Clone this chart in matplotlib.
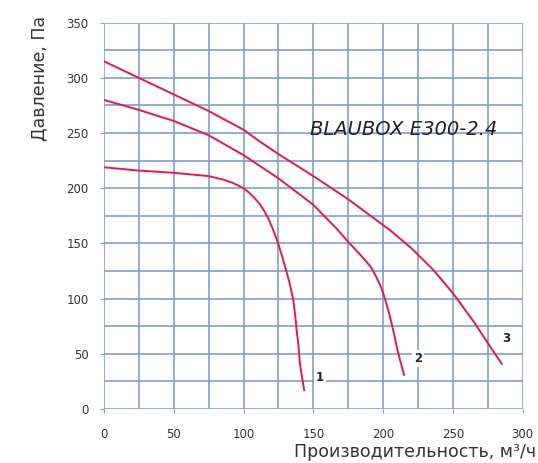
"""Fan pressure curves BLAUBOX E300-2.4."""
import matplotlib
matplotlib.use("Agg")
import matplotlib.pyplot as plt

# curve 1 / 2 / 3 : flow (m3/h) vs pressure (Pa)
q1 = [0, 25, 50, 75, 85, 92, 97, 100, 104, 108, 112, 115, 118, 121, 124, 127, 130, 133, 135.6, 137, 138, 139.3, 140.4, 142, 143.5]
p1 = [219, 216, 214, 211, 208, 205, 202, 200, 196, 191, 185, 179, 172, 163, 153, 141, 128, 114, 99, 85, 72, 58, 41, 28, 17]
q2 = [0, 25, 50, 75, 100, 125, 150, 167, 176, 182, 187, 191, 195, 198, 200, 202, 204, 206, 208, 210, 212, 215]
p2 = [280, 271, 261, 248, 230, 209, 185, 163, 150, 142, 135, 129, 120, 112, 105, 97, 88, 78, 67, 55, 45, 31]
q3 = [0, 25, 50, 75, 100, 112, 125, 150, 175, 205, 220, 236, 250, 265, 277, 285]
p3 = [315, 300, 285, 270, 253, 242, 231, 211, 190, 162, 146, 126, 105, 79, 56, 41]
curve_labels = ["1", "2", "3"]
label_pos = [(154.8, 29), (225.2, 46), (288.5, 64)]
xticks = [0, 50, 100, 150, 200, 250, 300]
yticks = [0, 50, 100, 150, 200, 250, 300, 350]

GRID = "#7f9ed6"; RED = "#e8174f"
fig = plt.figure(figsize=(5.38, 4.63), dpi=100)
ax = fig.add_axes([0.1933, 0.1166, 0.9715 - 0.1933, 0.951 - 0.1166])
ax.set_xlim(0, 300); ax.set_ylim(0, 350)
ax.set_xticks(range(0, 301, 25), minor=True); ax.set_yticks(range(0, 351, 25), minor=True)
ax.set_xticks(xticks); ax.set_yticks(yticks)
ax.grid(True, which="both", color=GRID, lw=1.2)
for s in ax.spines.values(): s.set_visible(False)
ax.tick_params(which="minor", length=0)
ax.tick_params(which="major", length=3, color=GRID, labelsize=8.5, labelcolor="#333333")
ax.tick_params(axis="y", pad=8); ax.tick_params(axis="x", pad=11)

for q, p in [(q1, p1), (q2, p2), (q3, p3)]:
    ax.plot(q, p, color=RED, lw=1.4, solid_joinstyle="round")
for t, (x, y) in zip(curve_labels, label_pos):
    ax.text(x, y, t, fontsize=8.5, fontweight="bold", ha="center", va="center", color="#222222",
            bbox=dict(facecolor="white", edgecolor="none", pad=1.5))
ax.text(215, 253, "BLAUBOX E300-2.4", fontsize=14, fontstyle="italic", ha="center", va="center",
        color="#222222", fontweight="light")

fig.text(0.074, 0.83, "Давление, Па", rotation=90, fontsize=12.5, ha="center", va="center", color="#333333")
fig.text(0.772, 0.013, "Производительность, м³/ч", fontsize=12.5, ha="center", va="baseline", color="#333333")
fig.savefig("out.png", dpi=100)
